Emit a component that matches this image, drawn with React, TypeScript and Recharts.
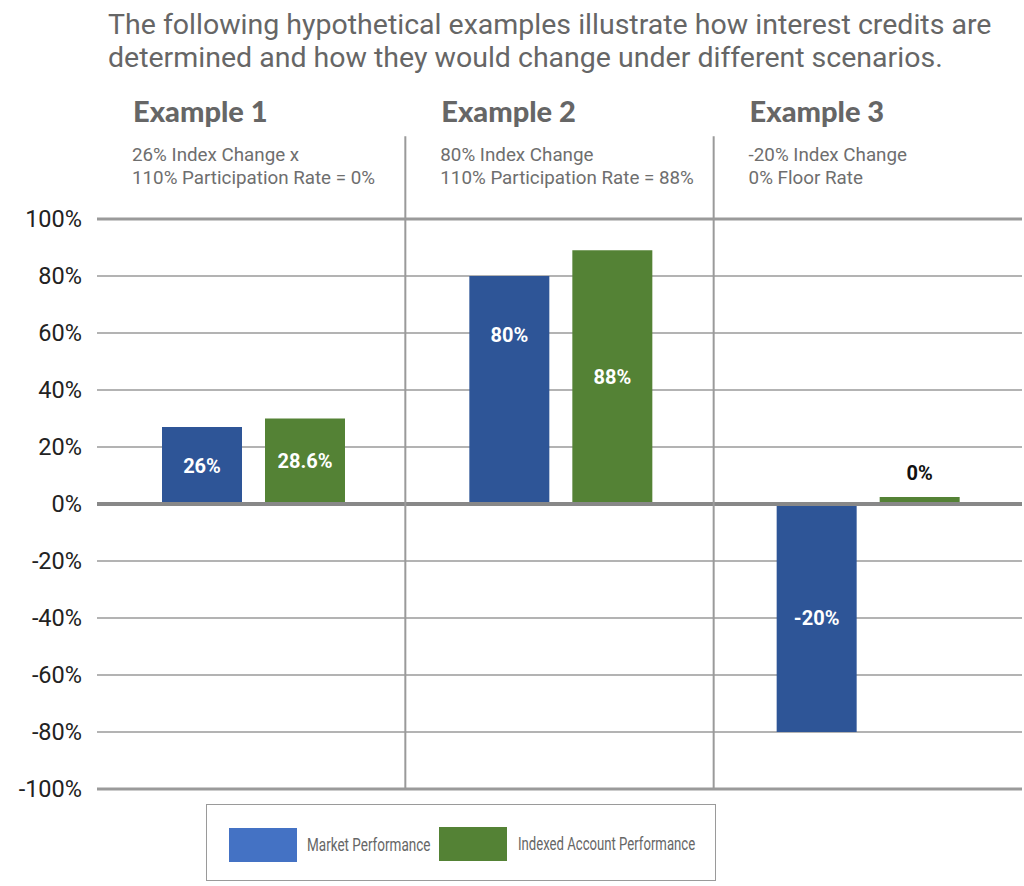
import React from "react";
import {
  BarChart,
  Bar,
  XAxis,
  YAxis,
  CartesianGrid,
  ReferenceLine,
  LabelList,
} from "recharts";

const CATEGORIES = ["Example 1", "Example 2", "Example 3"];
const SUBTITLES = [
  ["26% Index Change x", "110% Participation Rate = 0%"],
  ["80% Index Change", "110% Participation Rate = 88%"],
  ["-20% Index Change", "0% Floor Rate"],
];
const MARKET = [27, 80, -80];
const INDEXED = [30, 89, 2.5];
const MARKET_LABELS = ["26%", "80%", "-20%"];
const INDEXED_LABELS = ["28.6%", "88%", "0%"];
const Y_TICKS = [-100, -80, -60, -40, -20, 0, 20, 40, 60, 80, 100];
const DIVIDERS = [1, 2];

const TITLE = [
  "The following hypothetical examples illustrate how interest credits are",
  "determined and how they would change under different scenarios.",
];

const BLUE = "#2e5597";
const GREEN = "#548235";
const LEGEND_BLUE = "#4472c4";
const GRID = "#9a9a9a";
const GREY_TEXT = "#666666";

const rows = CATEGORIES.map((name, i) => ({
  name,
  pos: i + 0.5,
  market: MARKET[i],
  indexed: INDEXED[i],
}));

// label shifts inside bars (80% sits in the upper part of its bar)
const MARKET_DY = [0, -55, 0];

function insideLabel(labels: string[], dys: number[]) {
  return (props: any) => {
    const { x, y, width, height, index } = props;
    const h = Number(height);
    const top = h < 0 ? Number(y) + h : Number(y);
    const cy = top + Math.abs(h) / 2 + (dys[index] || 0);
    return (
      <text
        x={Number(x) + Number(width) / 2}
        y={cy}
        textAnchor="middle"
        dominantBaseline="central"
        fill="#fff"
        fontFamily="Roboto"
        fontWeight={700}
        fontSize={20}
      >
        {labels[index]}
      </text>
    );
  };
}

function indexedLabel(props: any) {
  const { x, y, width, height, index } = props;
  const h = Number(height);
  if (Math.abs(h) < 20) {
    return (
      <text
        x={Number(x) + Number(width) / 2}
        y={Number(y) - 24}
        textAnchor="middle"
        dominantBaseline="central"
        fill="#111"
        fontFamily="Roboto"
        fontWeight={700}
        fontSize={20}
      >
        {INDEXED_LABELS[index]}
      </text>
    );
  }
  return insideLabel(INDEXED_LABELS, [0, 0, 0])(props);
}

function LegendBox() {
  const item = (
    color: string,
    label: string,
    left: number,
    top: number,
    textLeft: number,
    squeeze: number
  ) => (
    <>
      <div
        style={{ position: "absolute", left, top, width: 68, height: 34, background: color }}
      />
      <span
        style={{
          position: "absolute",
          display: "inline-block",
          left: textLeft,
          top: top + 6,
          fontFamily: "Roboto",
          fontSize: 18,
          lineHeight: "22px",
          color: GREY_TEXT,
          whiteSpace: "nowrap",
          transform: `scaleX(${squeeze})`,
          transformOrigin: "left center",
        }}
      >
        {label}
      </span>
    </>
  );
  return (
    <div
      style={{
        position: "absolute",
        left: 206,
        top: 804,
        width: 510,
        height: 77,
        border: `1.5px solid ${GRID}`,
        boxSizing: "border-box",
        background: "#fff",
      }}
    >
      {item(LEGEND_BLUE, "Market Performance", 22, 23, 100, 0.75)}
      {item(GREEN, "Indexed Account Performance", 232, 22, 311, 0.73)}
    </div>
  );
}

export default function App() {
  return (
    <div
      style={{
        position: "absolute",
        left: 0,
        top: 0,
        width: 1024,
        height: 886,
        background: "#fff",
        overflow: "hidden",
      }}
    >
      <div
        style={{
          position: "absolute",
          left: 108,
          top: 8,
          fontFamily: "Roboto",
          fontSize: 28.5,
          lineHeight: "33px",
          color: GREY_TEXT,
          whiteSpace: "nowrap",
        }}
      >
        {TITLE.map((t) => (
          <div key={t}>{t}</div>
        ))}
      </div>
      {CATEGORIES.map((c, i) => (
        <div
          key={c}
          style={{
            position: "absolute",
            left: 133 + i * 308.3,
            top: 94,
            whiteSpace: "nowrap",
          }}
        >
          <div
            style={{
              fontFamily: "Lato",
              fontWeight: 900,
              fontSize: 29,
              color: GREY_TEXT,
              lineHeight: "34px",
            }}
          >
            {c}
          </div>
          <div
            style={{
              marginTop: 16,
              fontFamily: "Roboto",
              fontSize: 18.8,
              lineHeight: "23px",
              color: "#6e6e6e",
              marginLeft: -1,
            }}
          >
            {SUBTITLES[i].map((s) => (
              <div key={s}>{s}</div>
            ))}
          </div>
        </div>
      ))}
      <div style={{ position: "absolute", left: 0, top: 0 }}>
        <BarChart
          width={1024}
          height={886}
          data={rows}
          margin={{ top: 219, right: 2, bottom: 97, left: 0 }}
          barSize={80}
          barGap={23}
        >
          <CartesianGrid vertical={false} stroke={GRID} strokeWidth={1.5} strokeDasharray="" />
          <XAxis xAxisId="cat" dataKey="name" hide padding={{ left: 3, right: 0 }} />
          <XAxis
            xAxisId="div"
            dataKey="pos"
            type="number"
            domain={[0, 3]}
            allowDataOverflow
            hide
          />
          <YAxis
            domain={[-100, 100]}
            ticks={Y_TICKS}
            width={97}
            axisLine={false}
            tickLine={false}
            tickMargin={9}
            tickFormatter={(v) => `${v}%`}
            tick={{ fontFamily: "Roboto", fontSize: 23.5, fill: "#222" }}
            interval={0}
          />
          <Bar xAxisId="cat" dataKey="market" fill={BLUE} isAnimationActive={false}>
            <LabelList dataKey="market" content={insideLabel(MARKET_LABELS, MARKET_DY)} />
          </Bar>
          <Bar xAxisId="cat" dataKey="indexed" fill={GREEN} isAnimationActive={false}>
            <LabelList dataKey="indexed" content={indexedLabel} />
          </Bar>
          <ReferenceLine xAxisId="div" y={100} stroke={GRID} strokeWidth={3} />
          <ReferenceLine xAxisId="div" y={-100} stroke={GRID} strokeWidth={3} />
          <ReferenceLine xAxisId="div" y={0} stroke="#888" strokeWidth={4} />
          {DIVIDERS.map((d) => (
            <ReferenceLine
              key={d}
              xAxisId="div"
              segment={[
                { x: d, y: -100 },
                { x: d, y: 129 },
              ]}
              ifOverflow="visible"
              stroke={GRID}
              strokeWidth={2}
            />
          ))}
        </BarChart>
      </div>
      <LegendBox />
    </div>
  );
}
